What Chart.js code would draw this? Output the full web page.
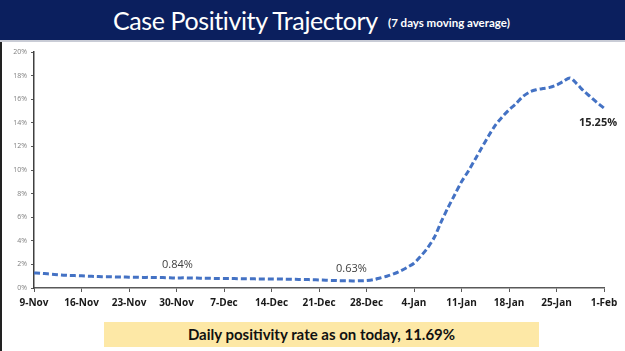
<!DOCTYPE html>
<html>
<head>
<meta charset="utf-8">
<script src="https://cdn.jsdelivr.net/npm/chart.js@4.4.1/dist/chart.umd.min.js"></script>
<style>
  html, body { margin: 0; padding: 0; background: #fff; }
  body { width: 625px; height: 351px; position: relative; overflow: hidden; font-family: Lato, "Open Sans", sans-serif; }
  .title-bar {
    position: absolute; left: 0; top: 0; width: 625px; height: 40px;
    background: #0b1f5e; border-bottom: 2px solid #c9ccd6;
  }
  .title-bar .main {
    position: absolute; left: 113px; top: 5px; color: #fff; font-size: 25px; letter-spacing: -0.4px; white-space: nowrap;
  }
  .title-bar .sub {
    position: absolute; left: 388px; top: 16px; color: #fff; font-size: 11.5px; font-weight: bold; white-space: nowrap;
  }
  .left-edge { position: absolute; left: 0; top: 42px; width: 2px; height: 309px; background: #222; }
  #wrap { position: absolute; left: 0; top: 42px; width: 625px; height: 274px; }
  .note {
    position: absolute; left: 104px; top: 322px; width: 435px; height: 25px;
    background: #fde8a6; color: #111; font-family: Lato, sans-serif;
    font-size: 15px; font-weight: bold; text-align: center; line-height: 25px;
  }
</style>
</head>
<body>
<div class="title-bar">
  <span class="main">Case Positivity Trajectory</span>
  <span class="sub">(7 days moving average)</span>
</div>
<div class="left-edge"></div>
<div id="wrap"><canvas id="posChart" width="625" height="274"></canvas></div>
<div class="note">Daily positivity rate as on today, 11.69%</div>

<script>
// daily dates 9-Nov .. 1-Feb
const months = ['Nov', 'Dec', 'Jan', 'Feb'];
const dates = [];
(function () {
  const lens = { Nov: 30, Dec: 31, Jan: 31, Feb: 28 };
  let m = 0, d = 9;
  for (let i = 0; i < 85; i++) {
    dates.push(d + '-' + months[m]);
    d++;
    if (d > lens[months[m]]) { d = 1; m++; }
  }
})();

// 7 day moving average positivity (%)
const positivity = [
  1.28, 1.25, 1.2, 1.15, 1.1, 1.07, 1.05, 1.03, 1.0, 0.98,
  0.96, 0.95, 0.94, 0.93, 0.92, 0.91, 0.9, 0.9, 0.89, 0.88,
  0.87, 0.84, 0.86, 0.85, 0.84, 0.83, 0.82, 0.81, 0.8, 0.8,
  0.79, 0.78, 0.78, 0.77, 0.77, 0.76, 0.76, 0.75, 0.74, 0.73,
  0.72, 0.7, 0.68, 0.66, 0.64, 0.62, 0.61, 0.6, 0.61, 0.63,
  0.7, 0.85, 1.0, 1.2, 1.45, 1.75, 2.1, 2.7, 3.4, 4.3,
  5.6, 6.8, 7.9, 9.0, 9.9, 10.9, 11.9, 12.9, 13.8, 14.5,
  15.1, 15.6, 16.2, 16.6, 16.8, 16.9, 17.0, 17.2, 17.5, 17.8,
  17.3, 16.7, 16.2, 15.7, 15.25
];

const yTicks = [0, 2, 4, 6, 8, 10, 12, 14, 16, 18, 20];

// callouts: [index, text, dx, dy, bold]
const callouts = [
  [21, '0.84%', 1, -13, false],
  [49, '0.63%', -15, -12, false],
  [84, '15.25%', -6, 15, true]
];

const calloutPlugin = {
  id: 'callouts',
  afterDatasetsDraw(chart) {
    const c = chart.ctx;
    const xs = chart.scales.x, ys = chart.scales.y;
    c.save();
    c.textAlign = 'center';
    c.textBaseline = 'middle';
    callouts.forEach(([i, txt, dx, dy, bold]) => {
      const px = xs.getPixelForValue(i);
      const py = ys.getPixelForValue(positivity[i]);
      c.font = (bold ? 'bold ' : '') + '11px "Open Sans", sans-serif';
      c.fillStyle = bold ? '#262626' : '#404040';
      c.fillText(txt, px + dx, py + dy);
    });
    c.restore();
  }
};

const ctx = document.getElementById('posChart').getContext('2d');
const posChart = new Chart(ctx, {
  type: 'line',
  data: {
    labels: dates,
    datasets: [{
      data: positivity,
      borderColor: '#4472c4',
      borderWidth: 3,
      borderDash: [6, 3],
      pointRadius: 0,
      tension: 0.3,
      fill: false
    }]
  },
  options: {
    responsive: false,
    animation: false,
    layout: { padding: { top: 10, right: 21, left: 0, bottom: 0 } },
    plugins: { legend: { display: false }, tooltip: { enabled: false } },
    scales: {
      x: {
        afterFit(s) { s.height = 28; },
        grid: {
          drawOnChartArea: false,
          tickLength: 4,
          color: (c) => (c.index % 7 === 0 ? '#595959' : 'rgba(0,0,0,0)')
        },
        border: { color: '#595959', width: 1.5 },
        ticks: {
          autoSkip: false,
          maxRotation: 0,
          padding: 5,
          color: '#1a1a1a',
          font: { family: '"Open Sans", sans-serif', size: 10, weight: 'bold' },
          callback: (v, i) => (i % 7 === 0 ? dates[i] : '')
        }
      },
      y: {
        min: 0,
        max: 20,
        afterFit(s) { s.width = 34; },
        afterBuildTicks(s) { s.ticks = yTicks.map(v => ({ value: v })); },
        grid: { drawOnChartArea: false, tickLength: 3, color: '#595959' },
        border: { color: '#404040', width: 1.5 },
        ticks: {
          padding: 4,
          color: '#7f7f7f',
          font: { family: '"Open Sans", sans-serif', size: 7 },
          callback: (v) => v + '%'
        }
      }
    }
  },
  plugins: [calloutPlugin]
});
</script>
</body>
</html>
